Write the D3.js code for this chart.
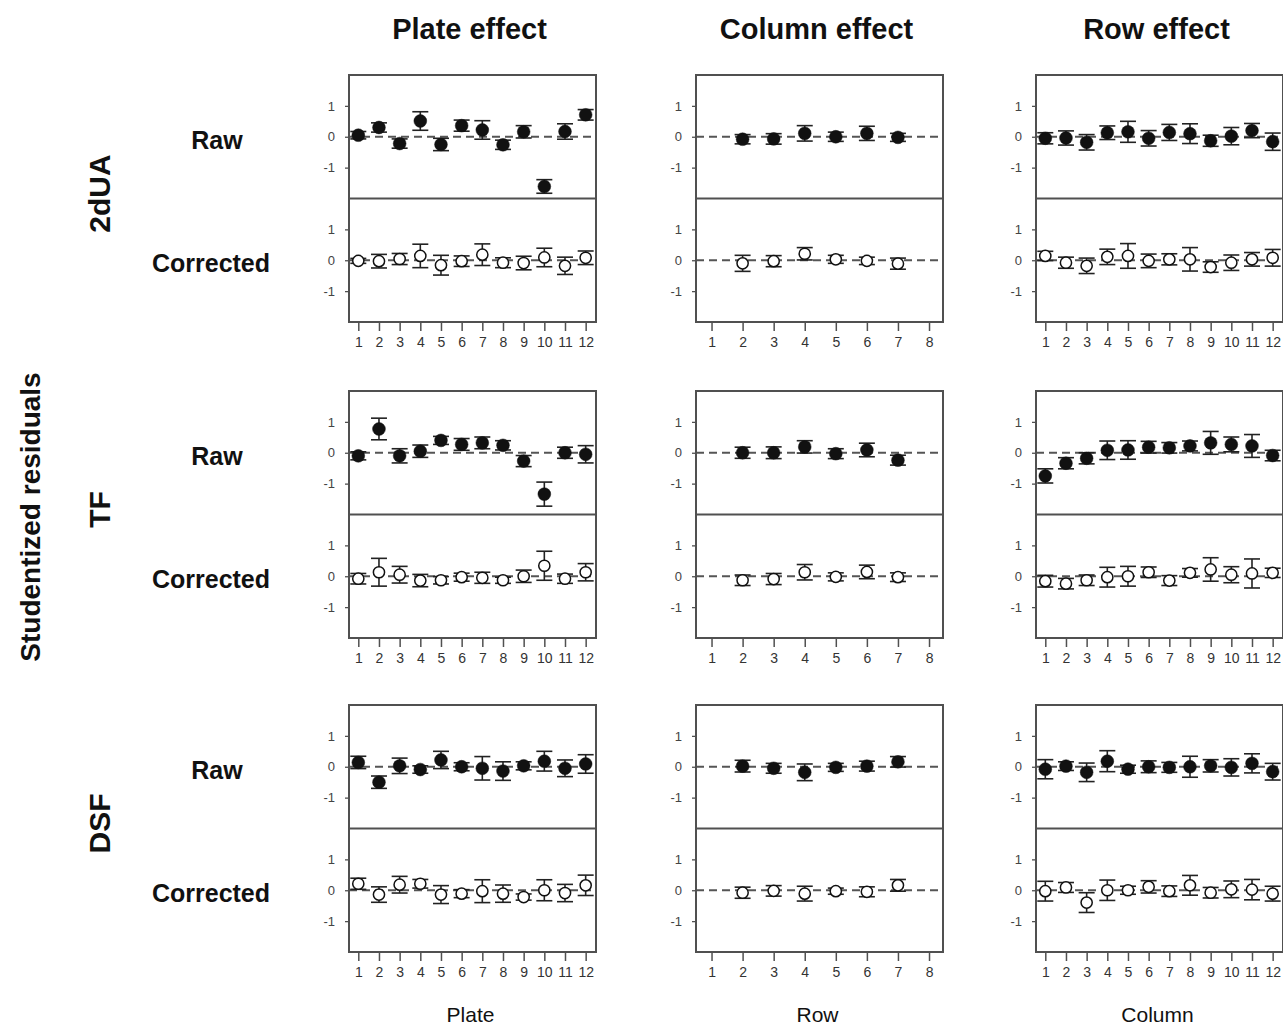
<!DOCTYPE html>
<html>
<head>
<meta charset="utf-8">
<script src="https://cdn.jsdelivr.net/npm/d3@7"></script>
<style>
  body { margin: 0; background: #fff; }
  text { font-family: "Liberation Sans", Arial, sans-serif; }
</style>
</head>
<body>
<div id="chart"></div>
<script>
// tick labels / categories
const plateTicks = [1, 2, 3, 4, 5, 6, 7, 8, 9, 10, 11, 12];
const rowTicks = [1, 2, 3, 4, 5, 6, 7, 8];
const columnTicks = [1, 2, 3, 4, 5, 6, 7, 8, 9, 10, 11, 12];
const yTicks = [-1, 0, 1];
const plateX = [1, 2, 3, 4, 5, 6, 7, 8, 9, 10, 11, 12];
const rowX = [2, 3, 4, 5, 6, 7];
const columnX = [1, 2, 3, 4, 5, 6, 7, 8, 9, 10, 11, 12];
const effectTitles = ['Plate effect', 'Column effect', 'Row effect'];
const xTitles = ['Plate', 'Row', 'Column'];
const assays = ['2dUA', 'TF', 'DSF'];

// 2dUA
const duaPlateRaw = [0.05, 0.3, -0.22, 0.51, -0.25, 0.36, 0.22, -0.26, 0.16, -1.61, 0.17, 0.71];
const duaPlateRawErr = [0.12, 0.15, 0.15, 0.3, 0.2, 0.18, 0.3, 0.15, 0.2, 0.22, 0.25, 0.17];
const duaPlateCor = [-0.02, -0.03, 0.04, 0.14, -0.16, -0.03, 0.18, -0.08, -0.09, 0.09, -0.18, 0.08];
const duaPlateCorErr = [0.08, 0.22, 0.18, 0.38, 0.32, 0.17, 0.35, 0.16, 0.22, 0.3, 0.28, 0.22];
const duaRowRaw = [-0.08, -0.07, 0.11, 0.0, 0.11, -0.02];
const duaRowRawErr = [0.15, 0.17, 0.25, 0.15, 0.23, 0.13];
const duaRowCor = [-0.1, -0.03, 0.21, 0.03, -0.02, -0.11];
const duaRowCorErr = [0.26, 0.18, 0.2, 0.13, 0.12, 0.18];
const duaColRaw = [-0.05, -0.04, -0.18, 0.13, 0.16, -0.05, 0.14, 0.1, -0.13, 0.02, 0.2, -0.16];
const duaColRawErr = [0.18, 0.23, 0.25, 0.22, 0.34, 0.25, 0.26, 0.32, 0.18, 0.28, 0.23, 0.28];
const duaColCor = [0.14, -0.08, -0.18, 0.11, 0.14, -0.02, 0.03, 0.03, -0.22, -0.08, 0.03, 0.08];
const duaColCorErr = [0.15, 0.18, 0.25, 0.25, 0.4, 0.22, 0.18, 0.38, 0.17, 0.25, 0.22, 0.27];

// TF
const tfPlateRaw = [-0.1, 0.77, -0.1, 0.05, 0.4, 0.27, 0.32, 0.24, -0.27, -1.34, 0.0, -0.05];
const tfPlateRawErr = [0.13, 0.35, 0.23, 0.2, 0.13, 0.19, 0.19, 0.15, 0.18, 0.39, 0.18, 0.28];
const tfPlateCor = [-0.08, 0.13, 0.05, -0.14, -0.13, -0.03, -0.05, -0.13, 0.0, 0.34, -0.08, 0.13];
const tfPlateCorErr = [0.17, 0.45, 0.27, 0.2, 0.12, 0.13, 0.18, 0.1, 0.2, 0.47, 0.15, 0.28];
const tfRowRaw = [0.0, 0.0, 0.19, -0.03, 0.09, -0.24];
const tfRowRawErr = [0.18, 0.19, 0.2, 0.16, 0.22, 0.16];
const tfRowCor = [-0.13, -0.09, 0.13, -0.02, 0.14, -0.03];
const tfRowCorErr = [0.17, 0.18, 0.25, 0.13, 0.22, 0.14];
const tfColRaw = [-0.75, -0.34, -0.18, 0.08, 0.09, 0.18, 0.16, 0.22, 0.32, 0.27, 0.22, -0.09];
const tfColRawErr = [0.23, 0.18, 0.18, 0.3, 0.3, 0.19, 0.17, 0.16, 0.37, 0.24, 0.37, 0.17];
const tfColCor = [-0.16, -0.24, -0.13, -0.03, 0.0, 0.13, -0.14, 0.11, 0.22, 0.05, 0.09, 0.11];
const tfColCorErr = [0.19, 0.17, 0.17, 0.32, 0.32, 0.17, 0.16, 0.14, 0.38, 0.26, 0.47, 0.15];

// DSF
const dsfPlateRaw = [0.14, -0.5, 0.03, -0.09, 0.22, 0.0, -0.05, -0.14, 0.03, 0.18, -0.05, 0.09];
const dsfPlateRawErr = [0.2, 0.2, 0.25, 0.12, 0.28, 0.13, 0.38, 0.3, 0.13, 0.32, 0.27, 0.3];
const dsfPlateCor = [0.21, -0.14, 0.18, 0.21, -0.14, -0.11, -0.03, -0.11, -0.22, 0.0, -0.09, 0.16];
const dsfPlateCorErr = [0.18, 0.25, 0.27, 0.14, 0.29, 0.13, 0.37, 0.28, 0.1, 0.34, 0.28, 0.33];
const dsfRowRaw = [0.02, -0.05, -0.18, -0.02, 0.02, 0.16];
const dsfRowRawErr = [0.19, 0.16, 0.27, 0.13, 0.16, 0.17];
const dsfRowCor = [-0.08, -0.02, -0.11, -0.03, -0.05, 0.16];
const dsfRowCorErr = [0.18, 0.17, 0.24, 0.1, 0.16, 0.19];
const dsfColRaw = [-0.08, 0.02, -0.18, 0.18, -0.08, 0.0, -0.02, 0.0, 0.03, -0.02, 0.11, -0.16];
const dsfColRawErr = [0.31, 0.14, 0.3, 0.34, 0.13, 0.19, 0.16, 0.34, 0.2, 0.28, 0.31, 0.27];
const dsfColCor = [-0.03, 0.09, -0.4, 0.0, 0.0, 0.11, -0.03, 0.16, -0.08, 0.03, 0.02, -0.11];
const dsfColCorErr = [0.32, 0.16, 0.32, 0.33, 0.13, 0.2, 0.17, 0.32, 0.17, 0.27, 0.33, 0.24];

// panel table built from the arrays above: [assay row][effect column]
const panels = [
    [
        { x: plateX, raw: duaPlateRaw, rawErr: duaPlateRawErr, cor: duaPlateCor, corErr: duaPlateCorErr },
        { x: rowX, raw: duaRowRaw, rawErr: duaRowRawErr, cor: duaRowCor, corErr: duaRowCorErr },
        { x: columnX, raw: duaColRaw, rawErr: duaColRawErr, cor: duaColCor, corErr: duaColCorErr }
    ],
    [
        { x: plateX, raw: tfPlateRaw, rawErr: tfPlateRawErr, cor: tfPlateCor, corErr: tfPlateCorErr },
        { x: rowX, raw: tfRowRaw, rawErr: tfRowRawErr, cor: tfRowCor, corErr: tfRowCorErr },
        { x: columnX, raw: tfColRaw, rawErr: tfColRawErr, cor: tfColCor, corErr: tfColCorErr }
    ],
    [
        { x: plateX, raw: dsfPlateRaw, rawErr: dsfPlateRawErr, cor: dsfPlateCor, corErr: dsfPlateCorErr },
        { x: rowX, raw: dsfRowRaw, rawErr: dsfRowRawErr, cor: dsfRowCor, corErr: dsfRowCorErr },
        { x: columnX, raw: dsfColRaw, rawErr: dsfColRawErr, cor: dsfColCor, corErr: dsfColCorErr }
    ]
];
const xTickSets = [plateTicks, rowTicks, columnTicks];
const xDomains = [[0.55, 12.5], [0.5, 8.45], [0.55, 12.5]];

// layout
const width = 1283;
const height = 1026;
const panelLeft = [349, 696, 1036];
const panelTop = [75, 391, 705];
const panelSize = 247;
const half = panelSize / 2;
const frameColor = '#505050';
const fontFamily = '"Liberation Sans", Arial, sans-serif';

const svg = d3.select('#chart')
    .append('svg')
    .attr('width', width)
    .attr('height', height);

// column titles and x titles
effectTitles.forEach(function(t, j) {
    svg.append('text')
        .attr('x', panelLeft[j] + panelSize / 2 - 3)
        .attr('y', 39)
        .attr('text-anchor', 'middle')
        .attr('font-size', 29)
        .attr('font-weight', 'bold')
        .attr('fill', '#111')
        .text(t);
    svg.append('text')
        .attr('x', panelLeft[j] + panelSize / 2 - 2)
        .attr('y', 1022)
        .attr('text-anchor', 'middle')
        .attr('font-size', 21)
        .attr('fill', '#111')
        .text(xTitles[j]);
});

// overall y title
svg.append('text')
    .attr('transform', 'translate(40,517) rotate(-90)')
    .attr('text-anchor', 'middle')
    .attr('font-size', 28)
    .attr('font-weight', 'bold')
    .attr('fill', '#111')
    .text('Studentized residuals');

assays.forEach(function(a, i) {
    const top = panelTop[i];
    svg.append('text')
        .attr('transform', 'translate(110,' + (top + half - 5) + ') rotate(-90)')
        .attr('text-anchor', 'middle')
        .attr('font-size', 30)
        .attr('font-weight', 'bold')
        .attr('fill', '#111')
        .text(a);
    svg.append('text')
        .attr('x', 217)
        .attr('y', top + half / 2 + 12)
        .attr('text-anchor', 'middle')
        .attr('font-size', 25)
        .attr('font-weight', 'bold')
        .attr('fill', '#111')
        .text('Raw');
    svg.append('text')
        .attr('x', 211)
        .attr('y', top + half + half / 2 + 12)
        .attr('text-anchor', 'middle')
        .attr('font-size', 25)
        .attr('font-weight', 'bold')
        .attr('fill', '#111')
        .text('Corrected');

    panels[i].forEach(function(p, j) {
        const g = svg.append('g')
            .attr('transform', 'translate(' + panelLeft[j] + ',' + top + ')');

        const xScale = d3.scaleLinear()
            .domain(xDomains[j])
            .range([0, panelSize]);

        const subs = [
            { v: p.raw, e: p.rawErr, y0: 0, filled: true },
            { v: p.cor, e: p.corErr, y0: half, filled: false }
        ];

        subs.forEach(function(s) {
            const yScale = d3.scaleLinear()
                .domain([-2, 2])
                .range([s.y0 + half, s.y0]);

            const yAxis = d3.axisLeft(yScale)
                .tickValues(yTicks)
                .tickSize(4)
                .tickPadding(10)
                .tickFormat(function(d) { return String(d); });
            const ya = g.append('g').call(yAxis);
            ya.select('.domain').remove();
            ya.selectAll('line').attr('stroke', frameColor).attr('stroke-width', 1.3);
            ya.selectAll('text')
                .style('font-size', '13px')
                .style('fill', '#444')
                .style('font-family', fontFamily);

            g.append('line')
                .attr('x1', 0)
                .attr('x2', panelSize)
                .attr('y1', yScale(0))
                .attr('y2', yScale(0))
                .attr('stroke', '#555')
                .attr('stroke-width', 1.8)
                .attr('stroke-dasharray', '8,5');

            const pts = p.x.map(function(x, k) { return [x, s.v[k], s.e[k]]; });
            const bars = g.append('g')
                .selectAll('g')
                .data(pts)
                .enter()
                .append('g')
                .attr('stroke', '#222')
                .attr('stroke-width', 1.6);
            bars.append('line')
                .attr('x1', function(d) { return xScale(d[0]); })
                .attr('x2', function(d) { return xScale(d[0]); })
                .attr('y1', function(d) { return yScale(d[1] - d[2]); })
                .attr('y2', function(d) { return yScale(d[1] + d[2]); });
            [-1, 1].forEach(function(sign) {
                bars.append('line')
                    .attr('x1', function(d) { return xScale(d[0]) - 8; })
                    .attr('x2', function(d) { return xScale(d[0]) + 8; })
                    .attr('y1', function(d) { return yScale(d[1] + sign * d[2]); })
                    .attr('y2', function(d) { return yScale(d[1] + sign * d[2]); });
            });

            g.append('g')
                .selectAll('circle')
                .data(pts)
                .enter()
                .append('circle')
                .attr('cx', function(d) { return xScale(d[0]); })
                .attr('cy', function(d) { return yScale(d[1]); })
                .attr('r', s.filled ? 6.4 : 5.6)
                .attr('fill', s.filled ? '#111' : '#fff')
                .attr('stroke', '#111')
                .attr('stroke-width', s.filled ? 0.5 : 1.5);
        });

        // frame and divider
        g.append('rect')
            .attr('width', panelSize)
            .attr('height', panelSize)
            .attr('fill', 'none')
            .attr('stroke', frameColor)
            .attr('stroke-width', 2);
        g.append('line')
            .attr('x1', 0)
            .attr('x2', panelSize)
            .attr('y1', half)
            .attr('y2', half)
            .attr('stroke', frameColor)
            .attr('stroke-width', 2);

        const xAxis = d3.axisBottom(xScale)
            .tickValues(xTickSets[j])
            .tickSize(9)
            .tickSizeOuter(0)
            .tickPadding(6)
            .tickFormat(function(d) { return String(d); });
        const xa = g.append('g')
            .attr('transform', 'translate(0,' + panelSize + ')')
            .call(xAxis);
        xa.select('.domain').remove();
        xa.selectAll('line').attr('stroke', frameColor).attr('stroke-width', 1.5);
        xa.selectAll('text')
            .style('font-size', '14px')
            .style('fill', '#333')
            .style('font-family', fontFamily);
    });
});
</script>
</body>
</html>
